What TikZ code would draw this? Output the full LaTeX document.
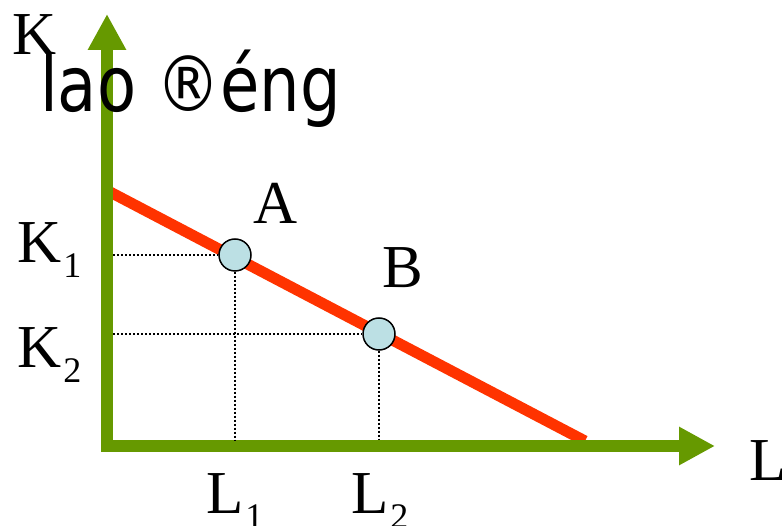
\documentclass[tikz,border=0pt]{standalone}
\usepackage{fontspec}
\usepackage{graphicx}
\usepackage{tikz}
\usetikzlibrary{arrows.meta,positioning}
\setmainfont{Liberation Serif}
\newfontfamily\labfont{DejaVu Sans}
\definecolor{axisgreen}{RGB}{102,153,0}
\definecolor{budgetred}{RGB}{255,51,0}
\definecolor{dotblue}{RGB}{188,224,228}
\newcommand\lowidx[1]{\kern2pt\lower15pt\hbox{\fontsize{36}{36}\selectfont #1}}

\begin{document}
\begin{tikzpicture}[x=1pt,y=-1pt,
axis/.style={draw=axisgreen,line width=12pt,-{Triangle[length=36pt,width=36pt]}},
budget/.style={draw=budgetred,line width=11pt},
pt/.style={circle,draw,line width=1.5pt,fill=dotblue,minimum size=32pt,inner sep=0pt},
guide/.style={line width=1.5pt,dash pattern=on 2pt off 2pt},
lbl/.style={inner sep=0pt,anchor=base west,font=\fontsize{61}{61}\selectfont}]
\useasboundingbox (0,0) rectangle (782,526);
% budget line under the axes
\coordinate (top) at (107,190.4);
\coordinate (end) at (585,441);
\draw[budget] (top) -- (end);
% axes
\coordinate (o) at (107,452);
\coordinate (oh) at (101,446);
\coordinate (ky) at (107,14);
\coordinate (lx) at (715,446);
\draw[axis] (o) -- (ky);
\draw[axis] (oh) -- (lx);
% points and guides
\node[pt] (A) at (235,255) {};
\node[pt] (B) at (379,334) {};
\coordinate (k1) at (113,255);
\coordinate (k2) at (113,334);
\coordinate (l1) at (235,440);
\coordinate (l2) at (379,440);
\draw[guide] (k1) -- (A.west);
\draw[guide] (A.south) -- (l1);
\draw[guide] (k2) -- (B.west);
\draw[guide] (B.south) -- (l2);
% labels
\node[lbl] (lk) at (12,55) {K};
\node[lbl] (title) at (40,112) {\labfont\fontsize{77}{77}\selectfont\scalebox{0.83}[1]{lao ®éng}};
\node[lbl] (lk1) at (17,263) {K\lowidx{1}};
\node[lbl] (lk2) at (17,368) {K\lowidx{2}};
\node[lbl] (ll1) at (206,513) {L\lowidx{1}};
\node[lbl] (ll2) at (351,513) {L\lowidx{2}};
\node[lbl] (la) at (253,224) {A};
\node[lbl] (lb) at (382,288) {B};
\node[lbl] (ll) at (749,480) {L};
\end{tikzpicture}
\end{document}
